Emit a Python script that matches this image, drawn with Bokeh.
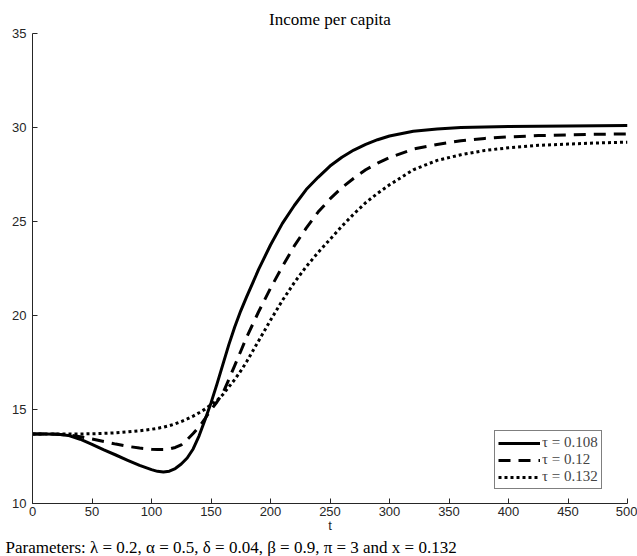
from bokeh.plotting import figure
from bokeh.models import Range1d, Legend, LegendItem, Title, FixedTicker, ColumnDataSource
from bokeh.embed import file_html
from bokeh.resources import INLINE

t = [0, 10, 20, 30, 40, 50, 60, 70, 80, 90, 100, 105, 110, 115, 120, 125, 130, 135, 140, 145,
     150, 155, 160, 165, 170, 175, 180, 190, 200, 210, 220, 230, 240, 250, 260, 270, 280, 290,
     300, 320, 340, 360, 380, 400, 425, 450, 475, 500]

y_108 = [13.7, 13.7, 13.69, 13.62, 13.42, 13.15, 12.85, 12.58, 12.3, 12.03, 11.8, 11.71, 11.67, 11.72,
         11.86, 12.1, 12.42, 12.9, 13.6, 14.45, 15.35, 16.35, 17.4, 18.45, 19.4, 20.25, 21.0, 22.45,
         23.75, 24.9, 25.85, 26.7, 27.35, 27.95, 28.42, 28.8, 29.1, 29.35, 29.55, 29.8, 29.92, 30.0,
         30.03, 30.05, 30.07, 30.08, 30.09, 30.1]

y_120 = [13.7, 13.7, 13.69, 13.65, 13.55, 13.43, 13.3, 13.16, 13.04, 12.95, 12.89, 12.87, 12.87, 12.9,
         12.98, 13.12, 13.4, 13.72, 14.08, 14.52, 14.98, 15.4, 15.88, 16.6, 17.35, 18.1, 18.85, 20.2,
         21.45, 22.6, 23.7, 24.65, 25.5, 26.2, 26.8, 27.3, 27.75, 28.1, 28.4, 28.85, 29.1, 29.3,
         29.42, 29.5, 29.57, 29.61, 29.64, 29.66]

y_132 = [13.7, 13.7, 13.7, 13.7, 13.7, 13.71, 13.73, 13.76, 13.81, 13.87, 13.95, 14.0, 14.06, 14.14,
         14.24, 14.36, 14.5, 14.65, 14.83, 15.02, 15.25, 15.48, 15.8, 16.2, 16.6, 17.05, 17.55, 18.65,
         19.75, 20.8, 21.75, 22.6, 23.35, 24.05, 24.75, 25.4, 26.0, 26.5, 26.95, 27.75, 28.25, 28.55,
         28.78, 28.92, 29.05, 29.12, 29.18, 29.22]

labels = ["τ = 0.108", "τ = 0.12", "τ = 0.132"]
x_ticks = [0, 50, 100, 150, 200, 250, 300, 350, 400, 450, 500]
y_ticks = [10, 15, 20, 25, 30, 35]
title_text = "Income per capita"
x_label = "t"
note_text = "Parameters: λ = 0.2, α = 0.5, δ = 0.04, β = 0.9, π = 3 and x = 0.132"

serif = "Liberation Serif"
sans = "Liberation Sans"
axis_col = "#262626"

p = figure(width=637, height=556, output_backend="svg", toolbar_location=None,
           x_range=Range1d(0, 500), y_range=Range1d(10, 35),
           min_border_left=32, min_border_right=10, min_border_top=33, min_border_bottom=53)
p.outline_line_color = None
p.background_fill_color = "white"
p.border_fill_color = "white"
p.xgrid.visible = False
p.ygrid.visible = False

p.title.text = title_text
p.title.align = "center"
p.title.standoff = 10
p.title.text_font = serif
p.title.text_font_size = "17px"
p.title.text_font_style = "normal"
p.title.text_color = "black"

for ax in (p.xaxis[0], p.yaxis[0]):
    ax.axis_line_color = axis_col
    ax.major_tick_line_color = axis_col
    ax.major_tick_in = 5
    ax.major_tick_out = 0
    ax.minor_tick_line_color = None
    ax.major_label_text_font = sans
    ax.major_label_text_font_size = "13px"
    ax.major_label_text_color = axis_col

p.xaxis.ticker = FixedTicker(ticks=x_ticks)
p.yaxis.ticker = FixedTicker(ticks=y_ticks)
p.xaxis.major_label_standoff = 3
p.yaxis.major_label_standoff = 6
p.xaxis.axis_label = x_label
p.xaxis.axis_label_text_font = sans
p.xaxis.axis_label_text_font_size = "13px"
p.xaxis.axis_label_text_font_style = "normal"
p.xaxis.axis_label_text_color = axis_col
p.xaxis.axis_label_standoff = -1

src = ColumnDataSource(dict(t=t, a=y_108, b=y_120, c=y_132))
r1 = p.line("t", "a", source=src, line_color="black", line_width=3, line_join="round")
r2 = p.line("t", "b", source=src, line_color="black", line_width=3, line_dash="12 8")
r3 = p.line("t", "c", source=src, line_color="black", line_width=3, line_dash="3 3")

legend = Legend(items=[LegendItem(label=labels[0], renderers=[r1]),
                       LegendItem(label=labels[1], renderers=[r2]),
                       LegendItem(label=labels[2], renderers=[r3])],
                location=(462, 14))
legend.border_line_color = "black"
legend.border_line_width = 1
legend.background_fill_color = "white"
legend.background_fill_alpha = 1
legend.label_text_font = serif
legend.label_text_font_size = "15px"
legend.glyph_width = 42
legend.glyph_height = 16
legend.label_height = 16
legend.label_standoff = 2
legend.spacing = 0
legend.padding = 3
legend.margin = 0
p.add_layout(legend, "center")

note = Title(text=note_text, align="left", offset=-27, standoff=0,
             text_font=serif, text_font_size="17px", text_font_style="normal",
             text_color="black")
p.add_layout(note, "below")

open("out.html", "w").write(file_html(p, INLINE))
